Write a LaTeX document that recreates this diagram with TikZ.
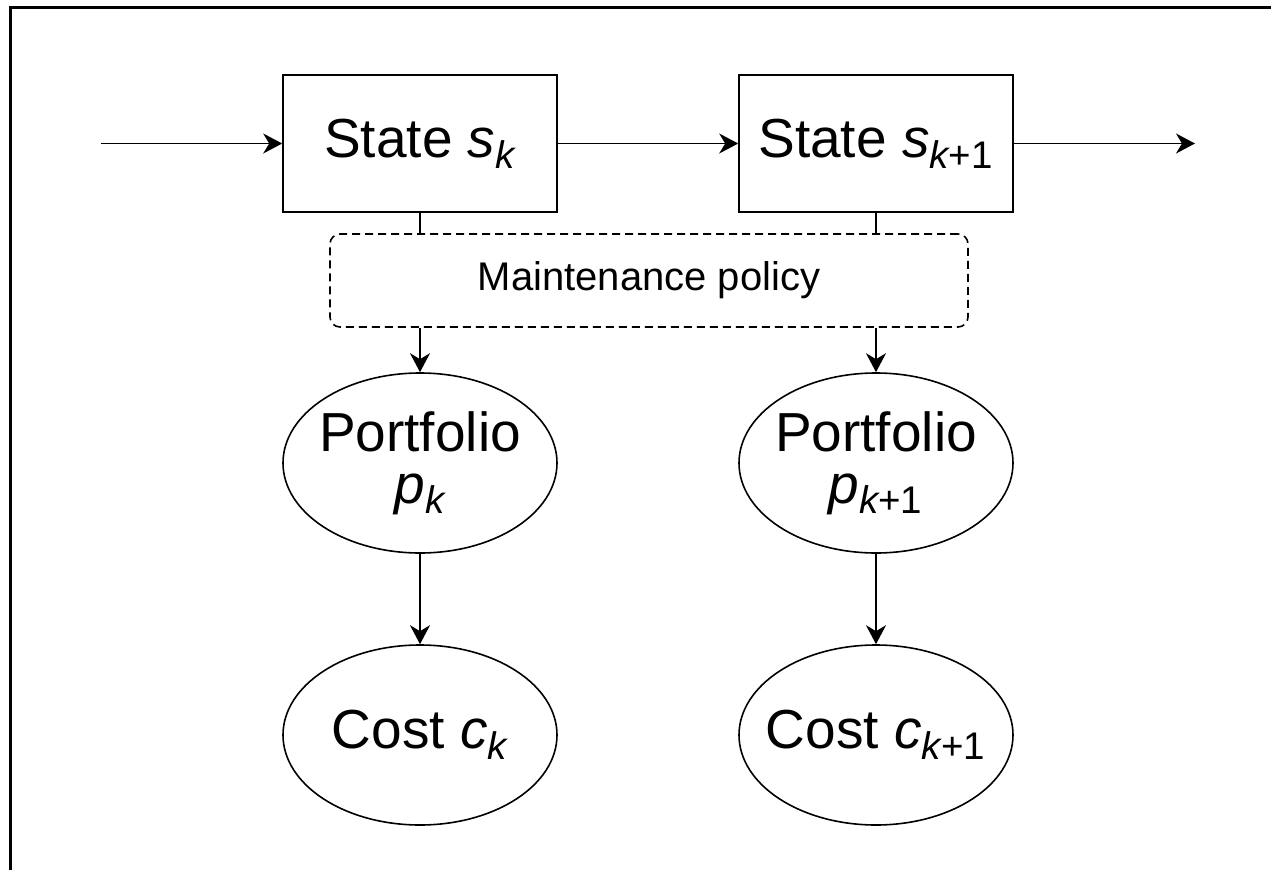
\documentclass[tikz,border=0pt]{standalone}
\usepackage{amsmath}
\usepackage{fontspec}
\setmainfont{Liberation Sans}
\usetikzlibrary{graphs,shapes.geometric,arrows.meta}

\tikzset{
	statebox/.style={draw, line width=0.8pt, minimum width=137pt, minimum height=68.5pt, inner sep=0pt, font=\fontsize{27.5}{30}\selectfont},
	outcome/.style={draw, ellipse, line width=0.8pt, minimum width=137pt, minimum height=90pt, inner xsep=-20pt, inner ysep=-6pt, align=center, font=\fontsize{27.5}{26}\selectfont},
	policybox/.style={draw, dash pattern=on 4pt off 2.5pt, rounded corners=5pt, line width=0.8pt, minimum width=319pt, minimum height=46.5pt, inner sep=0pt, font=\fontsize{20}{24}\selectfont},
}

\begin{document}
\begin{tikzpicture}[x=0.5pt, y=-0.5pt, >={Stealth[length=9.5pt,width=10pt,inset=3pt]}]
				\useasboundingbox (0,0) rectangle (1271,869);
				\draw[line width=1.5pt] (10,870) -- (10,7) -- (1272,7);
				\graph [no placement, edges={line width=0.8pt}] {
					inpt[coordinate, x=101, y=143.5] -> s1/{State \textit{s}$_{\textit{k}}$}[statebox, x=420, y=143.5] -> s2/{State \textit{s}$_{\textit{k}\text{+1}}$}[statebox, x=876, y=143.5] -> outpt[coordinate, x=1195, y=143.5],
					pol/{Maintenance policy}[policybox, x=649, y=280.5],
					p1/{Portfolio\\\textit{p}$_{\textit{k}}$}[outcome, x=420, y=463],
					p2/{Portfolio\\\textit{p}$_{\textit{k}\text{+1}}$}[outcome, x=876, y=463],
					c1/{Cost \textit{c}$_{\textit{k}}$}[outcome, x=420, y=735],
					c2/{Cost \textit{c}$_{\textit{k}\text{+1}}$}[outcome, x=876, y=735],
					p1 -> c1, p2 -> c2
				};
				\draw[line width=0.8pt] (s1.south) -- (s1.south |- pol.north);
				\draw[line width=0.8pt] (s2.south) -- (s2.south |- pol.north);
				\draw[->, line width=0.8pt] (p1.north |- pol.south) -- (p1.north);
				\draw[->, line width=0.8pt] (p2.north |- pol.south) -- (p2.north);
			\end{tikzpicture}
\end{document}
